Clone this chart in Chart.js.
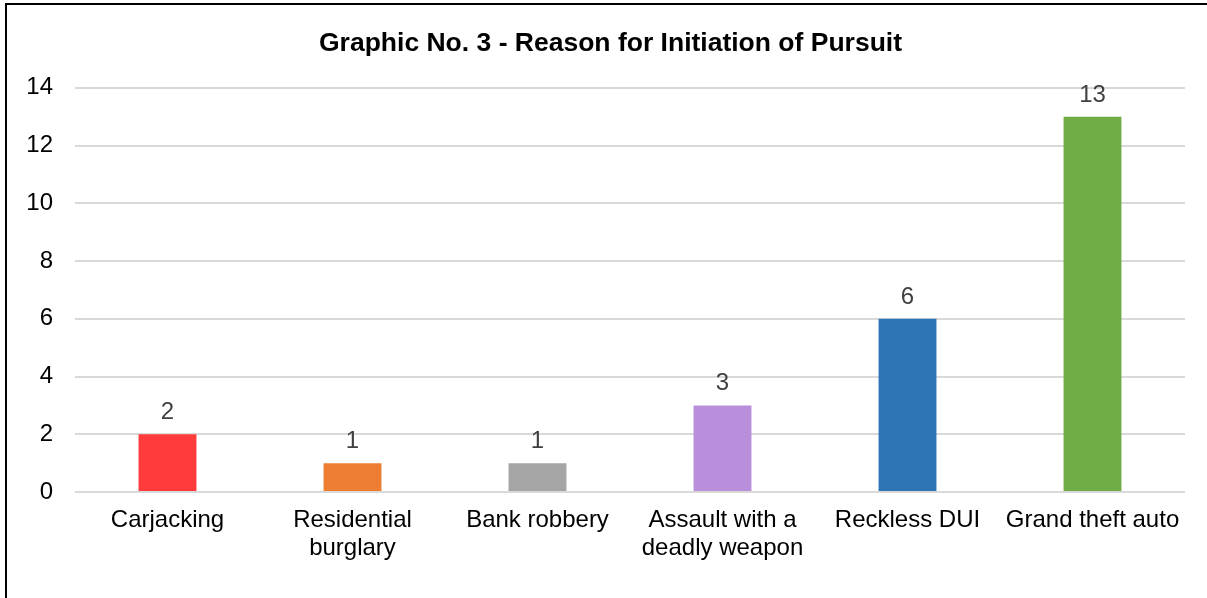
<!DOCTYPE html>
<html>
<head>
<meta charset="utf-8">
<script src="https://cdn.jsdelivr.net/npm/chart.js@4/dist/chart.umd.min.js"></script>
<style>
html,body{margin:0;padding:0;background:#fff;overflow:hidden;}
#frame{position:absolute;left:5px;top:3px;width:1300px;height:700px;border-left:2px solid #000;border-top:2px solid #000;}
#wrap{position:absolute;left:0;top:0;width:1207px;height:598px;}
</style>
</head>
<body>
<div id="frame"></div>
<div id="wrap"><canvas id="c" width="1207" height="598"></canvas></div>
<script>
const titleText = "Graphic No. 3 - Reason for Initiation of Pursuit";
const categories = ["Carjacking", ["Residential", "burglary"], "Bank robbery", ["Assault with a", "deadly weapon"], "Reckless DUI", "Grand theft auto"];
const counts = [2, 1, 1, 3, 6, 13];
const barColors = ["#FF3B3B", "#ED7D31", "#A5A5A5", "#B98EDB", "#2E75B6", "#70AD47"];
const yTicks = [0, 2, 4, 6, 8, 10, 12, 14];

const FONT = "'Liberation Sans', Arial, sans-serif";

const valueLabels = {
  id: 'valueLabels',
  afterDatasetsDraw(chart) {
    const ctx = chart.ctx;
    const meta = chart.getDatasetMeta(0);
    ctx.save();
    ctx.font = "24px " + FONT;
    ctx.fillStyle = "#404040";
    ctx.textAlign = "center";
    ctx.textBaseline = "alphabetic";
    meta.data.forEach((bar, i) => {
      ctx.fillText(String(chart.data.datasets[0].data[i]), bar.x, bar.y - 15);
    });
    ctx.restore();
  }
};

const shiftTitle = {
  id: 'shiftTitle',
  afterLayout(chart) {
    const t = chart.titleBlock;
    if (t) { t.left += 14; t.right += 14; }
  }
};

new Chart(document.getElementById('c'), {
  type: 'bar',
  data: {
    labels: categories,
    datasets: [{
      data: counts,
      backgroundColor: barColors,
      borderWidth: 0,
      categoryPercentage: 1,
      barPercentage: 0.313
    }]
  },
  options: {
    responsive: false,
    animation: false,
    devicePixelRatio: 1,
    layout: { padding: { left: 8, right: 22, top: 0, bottom: 0 } },
    plugins: {
      legend: { display: false },
      tooltip: { enabled: false },
      title: {
        display: true,
        text: titleText,
        color: "#000",
        font: { family: FONT, size: 26.5, weight: 'bold' },
        padding: { top: 28, bottom: 28 }
      }
    },
    scales: {
      x: {
        grid: { display: false, drawTicks: false },
        border: { display: false },
        ticks: {
          color: "#000",
          font: { family: FONT, size: 24, lineHeight: 1.17 },
          padding: 14,
          maxRotation: 0,
          autoSkip: false
        },
        afterFit(s) { s.height = 106; }
      },
      y: {
        min: 0, max: 14,
        afterBuildTicks(s) { s.ticks = yTicks.map(v => ({ value: v })); },
        grid: { color: "#D9D9D9", lineWidth: 2, drawTicks: false },
        border: { display: false },
        ticks: {
          color: "#000",
          font: { family: FONT, size: 24 },
          padding: 22
        },
        afterFit(s) { s.width = 67; }
      }
    }
  },
  plugins: [valueLabels, shiftTitle]
});
</script>
</body>
</html>
